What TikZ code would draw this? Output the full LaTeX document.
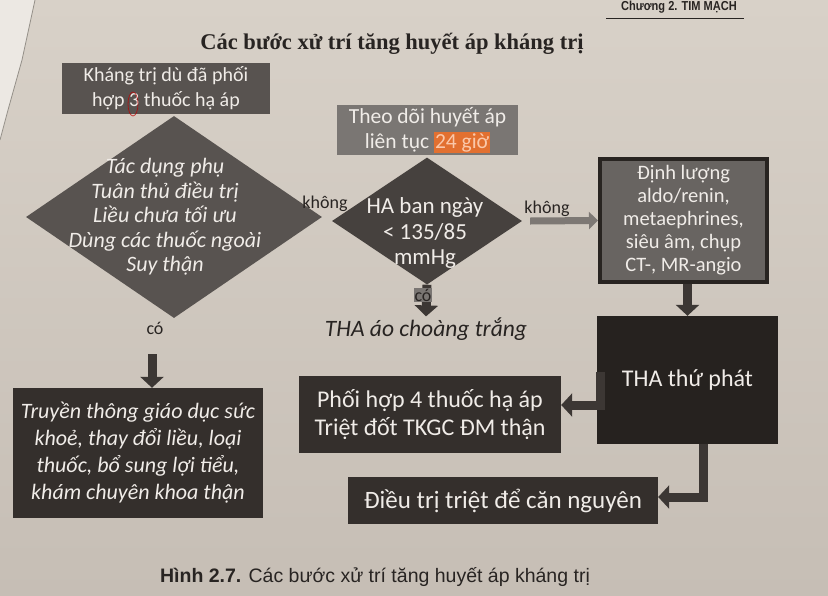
\documentclass[tikz,border=0pt]{standalone}
\usepackage{fontspec}
\setmainfont{Carlito}
\newfontfamily\titlefont{Liberation Serif}
\newfontfamily\capfont{Liberation Sans}
\usetikzlibrary{shapes.geometric,arrows.meta}
\definecolor{papertop}{RGB}{216,209,200}
\definecolor{paperbot}{RGB}{198,190,181}
\definecolor{boxA}{RGB}{88,83,80}
\definecolor{boxB}{RGB}{70,65,62}
\definecolor{boxC}{RGB}{52,47,44}
\definecolor{boxD}{RGB}{38,34,31}
\definecolor{boxE}{RGB}{122,118,115}
\definecolor{boxF}{RGB}{104,100,97}
\definecolor{boxedge}{RGB}{40,36,33}
\definecolor{arrowc}{RGB}{60,55,52}
\definecolor{arrowg}{RGB}{125,120,116}
\definecolor{txtw}{RGB}{240,236,232}
\definecolor{inkc}{RGB}{40,36,34}
\definecolor{hilite}{RGB}{226,112,48}
\definecolor{hitext}{RGB}{250,200,170}
\begin{document}
\begin{tikzpicture}[x=1pt,y=-1pt,
  darkbox/.style={rectangle,inner sep=0pt,text=txtw,align=center},
  dtext/.style={text=txtw,align=center,inner sep=0pt},
  blk/.style={line width=9pt,draw=arrowc,-{Triangle[width=23pt,length=11pt]}},
  gry/.style={line width=7pt,draw=arrowg,-{Triangle[width=17pt,length=9pt]}},
  lbl/.style={text=inkc,inner sep=1pt,font=\fontsize{18}{20}\selectfont}]
\useasboundingbox (0,0) rectangle (828,595);
\shade[top color=papertop,bottom color=paperbot] (0,0) rectangle (828,595);
% page curl at left edge
\fill[papertop!50!white] (0,0) -- (35,0) -- (22,60) -- (8,110) -- (0,140) -- cycle;
\draw[paperbot!75!black,line width=0.8pt] (35,0) -- (22,60) -- (8,110) -- (0,140);

% header
\node[text=inkc,inner sep=0pt,font=\capfont\bfseries\fontsize{13}{14}\selectfont] (head) at (679,7) {\scalebox{0.85}[1]{Chương 2. TIM MẠCH}};
\draw[inkc,line width=1pt] (606,18) -- (744,18);

% title
\node[text=inkc,inner sep=0pt,font=\titlefont\bfseries\fontsize{22.5}{26}\selectfont] (title) at (392,44) {Các bước xử trí tăng huyết áp kháng trị};

% top-left box
\node[darkbox,fill=boxA,minimum width=208,minimum height=51,font=\fontsize{20}{24.5}\selectfont] (resist) at (166,88)
  {Kháng trị dù đã phối\\hợp 3 thuốc hạ áp};

% left diamond
\node[diamond,fill=boxA,minimum width=296,minimum height=202,inner sep=0pt] (checks) at (174,217) {};
\node[dtext,font=\itshape\fontsize{22}{24.5}\selectfont] (checkst) at (165,217)
  {Tác dụng phụ\\Tuân thủ điều trị\\Liều chưa tối ưu\\Dùng các thuốc ngoài\\Suy thận};

% monitoring box
\node[darkbox,fill=boxE,minimum width=181,minimum height=50,font=\fontsize{21.5}{25}\selectfont] (monitor) at (427.5,130)
  {Theo dõi huyết áp\\liên tục {\setlength{\fboxsep}{1pt}\colorbox{hilite}{\textcolor{hitext}{24 giờ}}}};

% middle diamond
\node[diamond,fill=boxB,minimum width=190,minimum height=127,inner sep=0pt] (daybp) at (427,221) {};
\node[dtext,font=\fontsize{23}{25.5}\selectfont] (daybpt) at (425,233)
  {HA ban ngày\\< 135/85\\mmHg};

% label between diamonds
\node[lbl] (kh1) at (325,204) {không};

% white coat
\node[text=inkc,inner sep=1pt,font=\itshape\fontsize{23.5}{26}\selectfont] (wcoat) at (426,329) {THA áo choàng trắng};
\draw[blk] (daybp.south) -- (wcoat.north);
\node[lbl,fill=boxE,inner sep=0.5pt] (co2) at (423,295) {có};

% right info box
\node[darkbox,fill=boxF,draw=boxedge,line width=4pt,minimum width=167,minimum height=123,font=\fontsize{20.5}{23}\selectfont] (info) at (683.5,220.5)
  {Định lượng\\aldo/renin,\\metaephrines,\\siêu âm, chụp\\CT-, MR-angio};
\draw[gry] ([xshift=8pt]daybp.east) -- (info.west);
\node[lbl] (kh2) at (547,209) {không};

% secondary hypertension
\node[darkbox,fill=boxD,minimum width=181,minimum height=128,font=\fontsize{24}{27}\selectfont] (second) at (687.5,380)
  {THA thứ phát};
\draw[blk] (info.south -| second.north) -- (second.north);

% left bottom box
\node[lbl] (co1) at (155,328) {có};
\node[darkbox,fill=boxC,minimum width=250,minimum height=130,font=\itshape\fontsize{22}{27}\selectfont] (educ) at (138,453)
  {Truyền thông giáo dục sức\\khoẻ, thay đổi liều, loại\\thuốc, bổ sung lợi tiểu,\\khám chuyên khoa thận};
\coordinate (a1) at (152,354);
\draw[blk] (a1) -- (a1 |- educ.north);

% combination box
\node[darkbox,fill=boxC,minimum width=262,minimum height=77,font=\fontsize{24}{28}\selectfont] (combo) at (430,414.5)
  {Phối hợp 4 thuốc hạ áp\\Triệt đốt TKGC ĐM thận};
\coordinate (e1) at (600,372);
\draw[blk] (e1) |- ([yshift=9.5pt]combo.east);

% cure box
\node[darkbox,fill=boxC,minimum width=310,minimum height=47,font=\fontsize{25}{28}\selectfont] (cure) at (503,500.5)
  {Điều trị triệt để căn nguyên};
\coordinate (e2) at (703,444);
\draw[blk] (e2) |- ([yshift=3.5pt]cure.east);

% caption
\node[text=inkc,inner sep=0pt,font=\capfont\fontsize{19.5}{22}\selectfont] (caption) at (375,577)
  {\textbf{Hình 2.7.} Các bước xử trí tăng huyết áp kháng trị};

% red pen mark around the 3
\draw[red!75!black,line width=0.8pt,opacity=0.7] (133,104) ellipse (5pt and 12pt);
\end{tikzpicture}
\end{document}
